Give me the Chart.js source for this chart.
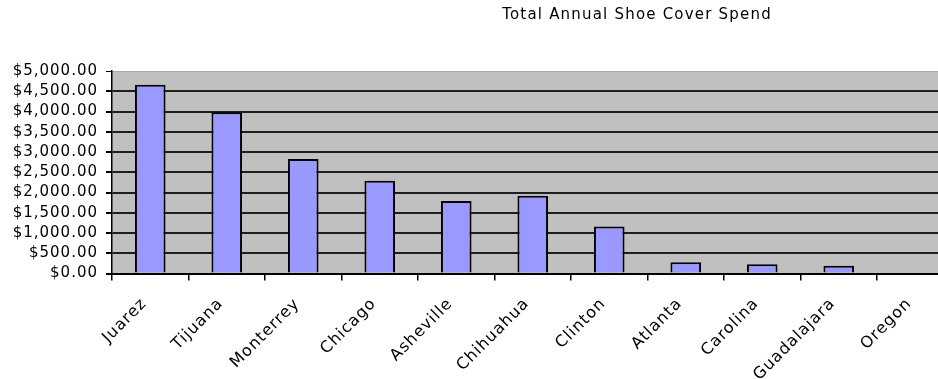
<!DOCTYPE html>
<html>
<head>
<meta charset="utf-8">
<style>
  html, body { margin: 0; padding: 0; background: #ffffff; overflow: hidden; }
  #wrap { position: relative; width: 960px; height: 379px; }
</style>
<script src="https://cdn.jsdelivr.net/npm/chart.js@4/dist/chart.umd.min.js"></script>
</head>
<body>
<div id="wrap"><canvas id="spendChart" width="960" height="379"></canvas></div>
<script>
// Chart text and data
const chartTitle = 'Total Annual Shoe Cover Spend';
const sites = ['Juarez', 'Tijuana', 'Monterrey', 'Chicago', 'Asheville', 'Chihuahua',
               'Clinton', 'Atlanta', 'Carolina', 'Guadalajara', 'Oregon'];
const annualSpend = [4660, 3980, 2830, 2290, 1790, 1920, 1160, 280, 230, 190, 0];
const yAxisMin = 0;
const yAxisMax = 5000;
const yAxisStep = 500;

const FONT_FAMILY = '"DejaVu Sans", "Liberation Sans", Arial, sans-serif';
const LETTER_SPACING = '1px';

function formatDollars(v) {
  return '$' + Number(v).toLocaleString('en-US', { minimumFractionDigits: 2, maximumFractionDigits: 2 });
}

// Spaced-out lettering, grey plot backdrop and the title line
const sheetStyle = {
  id: 'sheetStyle',
  beforeLayout(chart) { chart.ctx.letterSpacing = LETTER_SPACING; },
  beforeDraw(chart) {
    const { ctx, chartArea: a } = chart;
    ctx.letterSpacing = LETTER_SPACING;
    ctx.save();
    ctx.fillStyle = '#c0c0c0';
    ctx.fillRect(a.left, a.top, a.right - a.left, a.bottom - a.top);
    ctx.restore();
  },
  afterDraw(chart) {
    const ctx = chart.ctx;
    ctx.save();
    ctx.letterSpacing = '1.2px';
    ctx.font = '15px ' + FONT_FAMILY;
    ctx.fillStyle = '#000000';
    ctx.textAlign = 'center';
    ctx.textBaseline = 'middle';
    ctx.fillText(chartTitle, 637, 15);
    ctx.restore();
  }
};

new Chart(document.getElementById('spendChart'), {
  type: 'bar',
  data: {
    labels: sites,
    datasets: [{
      data: annualSpend,
      backgroundColor: '#9999ff',
      borderColor: '#000000',
      borderWidth: 2,
      barPercentage: 0.4,
      categoryPercentage: 1.0
    }]
  },
  options: {
    responsive: false,
    animation: false,
    layout: { padding: { top: 71, left: 0, right: 6.5, bottom: 0 } },
    plugins: {
      legend: { display: false },
      tooltip: { enabled: false },
      title: { display: false }
    },
    scales: {
      x: {
        grid: {
          offset: true,
          drawOnChartArea: false,
          drawTicks: true,
          tickLength: 7,
          color: '#000000',
          lineWidth: 1.5
        },
        border: { display: true, color: '#000000', width: 2 },
        ticks: {
          color: '#000000',
          font: { family: FONT_FAMILY, size: 16 },
          minRotation: 45,
          maxRotation: 45,
          autoSkip: false,
          padding: 14,
          labelOffset: -6
        },
        afterFit(scale) { scale.height = 379 - 273.5; }
      },
      y: {
        min: yAxisMin,
        max: yAxisMax,
        grid: {
          drawTicks: true,
          tickLength: 6,
          tickColor: '#000000',
          color: (c) => (c.tick && c.tick.value === yAxisMax) ? '#a8a8a8' : '#1e1e1e',
          lineWidth: (c) => (c.tick && c.tick.value === yAxisMax) ? 1 : 2
        },
        border: { display: true, color: '#000000', width: 1.5 },
        ticks: {
          stepSize: yAxisStep,
          autoSkip: false,
          color: '#000000',
          font: { family: FONT_FAMILY, size: 15 },
          padding: 8,
          callback: (v) => formatDollars(v)
        },
        afterFit(scale) { scale.width = 112; }
      }
    }
  },
  plugins: [sheetStyle]
});
</script>
</body>
</html>
